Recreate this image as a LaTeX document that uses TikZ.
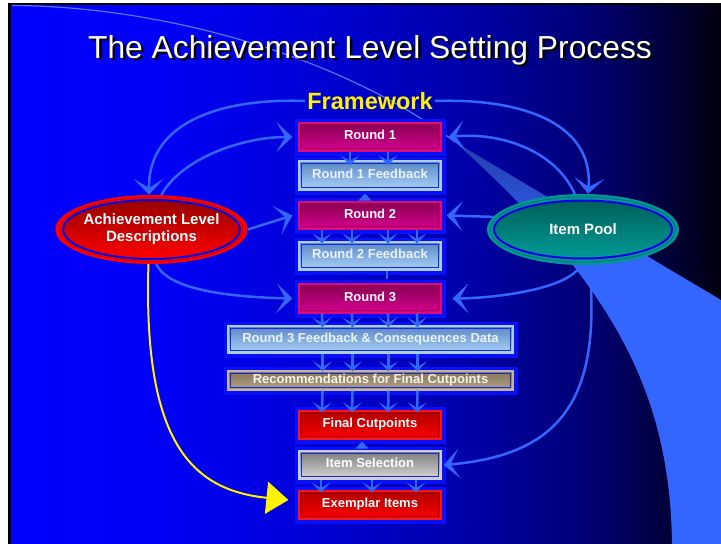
\documentclass[tikz,border=0pt]{standalone}
\usepackage{fontspec}
\setmainfont{Liberation Sans}
\usetikzlibrary{arrows.meta,shapes.geometric}
\definecolor{bgA}{RGB}{0,0,255}
\definecolor{bgB}{RGB}{0,0,248}
\definecolor{bgC}{RGB}{0,0,222}
\definecolor{bgD}{RGB}{0,0,172}
\definecolor{bgE}{RGB}{0,0,110}
\definecolor{bgF}{RGB}{0,0,32}
\definecolor{bgG}{RGB}{0,0,14}
\definecolor{wedgeA}{RGB}{35,60,170}
\definecolor{wedgeB}{RGB}{51,102,255}
\definecolor{wedgeline}{RGB}{80,120,255}
\definecolor{arrc}{RGB}{51,102,255}
\definecolor{backc}{RGB}{8,16,250}
\definecolor{rndT}{RGB}{135,0,80}
\definecolor{rndB}{RGB}{215,0,145}
\definecolor{rndF}{RGB}{225,10,120}
\definecolor{rndG}{RGB}{160,0,90}
\definecolor{fbT}{RGB}{90,135,195}
\definecolor{fbB}{RGB}{170,210,248}
\definecolor{fbF}{RGB}{175,205,240}
\definecolor{gapblue}{RGB}{20,40,230}
\definecolor{fbtext}{RGB}{235,242,255}
\definecolor{recT}{RGB}{132,117,92}
\definecolor{recB}{RGB}{178,163,133}
\definecolor{recF}{RGB}{195,180,155}
\definecolor{rectext}{RGB}{245,242,230}
\definecolor{redT}{RGB}{175,0,0}
\definecolor{redB}{RGB}{255,0,0}
\definecolor{redF}{RGB}{255,20,20}
\definecolor{redG}{RGB}{150,0,0}
\definecolor{grT}{RGB}{125,125,125}
\definecolor{grB}{RGB}{215,215,215}
\definecolor{grF}{RGB}{205,205,205}
\definecolor{tealO}{RGB}{0,150,150}
\definecolor{tealT}{RGB}{0,95,90}
\definecolor{tealB}{RGB}{0,155,150}
\definecolor{tealL}{RGB}{0,110,110}
\definecolor{aldT}{RGB}{150,0,0}
\definecolor{aldL}{RGB}{200,0,0}
\definecolor{ringblue}{RGB}{0,0,235}
\pgfdeclarehorizontalshading{bgshade}{100bp}{color(0bp)=(bgA); color(25bp)=(bgA); color(34.8bp)=(bgB); color(43.9bp)=(bgC); color(56.6bp)=(bgD); color(66.5bp)=(bgE); color(73.5bp)=(bgF); color(75bp)=(bgG); color(100bp)=(bgG)}
\pgfdeclareverticalshading{wedgeshade}{100bp}{color(0bp)=(wedgeB); color(61bp)=(wedgeB); color(75bp)=(wedgeA); color(100bp)=(wedgeA)}
\newcommand\bxfont{\bfseries\fontsize{13}{15}\selectfont}
\newcommand\elfont{\bfseries\fontsize{15}{17}\selectfont}
\newcommand\shadowed[1]{\makebox[0pt][l]{\raisebox{-2.5pt}[0pt][0pt]{\kern2.5pt\textcolor{black}{#1}}}#1}
\begin{document}
\begin{tikzpicture}[x=1pt,y=-1pt,
  stepbox/.style n args={4}{rectangle, inner sep=0pt, minimum width=142pt, minimum height=28pt,
    text height=9.5pt, text depth=4pt,
    text=white, font=\bxfont, top color=#1, bottom color=#2, draw=#3, line width=1.2pt,
    preaction={draw=backc, line width=9pt},
    path picture={\draw[#4, line width=0.9pt] ([shift={(2.2,2.2)}]path picture bounding box.north west) rectangle ([shift={(-2.2,-2.2)}]path picture bounding box.south east);}},
  bigarr/.style={draw=arrc, line width=2.5pt, -{Stealth[length=16pt,width=30pt,inset=9pt]}},
  smallarr/.style={draw=arrc, line width=2.6pt, -{Stealth[length=10pt,width=19pt,inset=5.5pt]}},
  triarr/.style={draw=arrc, line width=2.5pt, -{Triangle[length=7pt,width=13pt]}},
  yarr/.style={draw=yellow, line width=2pt, -{Triangle[length=22pt,width=32pt]}},
  titlefont/.style={font=\fontsize{31.8}{36}\selectfont, inner sep=0pt}
]
\useasboundingbox (0,0) rectangle (721,544);
\fill[white] (0,0) rectangle (721,544);
\fill[black] (8,3) rectangle (721,544);
\shade[shading=bgshade] (11,5) rectangle (721,544);
% decorative sweep
\shade[shading=wedgeshade] (455,142) -- (721,300) -- (721,544) -- (672,544) .. controls (670,400) and (620,290) .. (455,142) -- cycle;
\draw[wedgeline, line width=1.2pt] (12,5.5) .. controls (160,6) and (340,55) .. (455,142);
% title
\node[titlefont, text=white] (title) at (370,50) {\shadowed{The Achievement Level Setting Process}};
\node[text=yellow, font=\bfseries\fontsize{23.5}{26}\selectfont, inner sep=2pt] (fw) at (370,101) {Framework};
% ellipses
\node[ellipse, minimum width=189pt, minimum height=69pt, inner sep=0pt, fill=red, text=white, font=\elfont, align=center,
  path picture={\draw[aldL, line width=0.8pt] (path picture bounding box.center) ellipse [x radius=91.5, y radius=32];
    \draw[ringblue, line width=2pt, top color=aldT, bottom color=red] (path picture bounding box.center) ellipse [x radius=88.5, y radius=29.5];}]
  (ald) at (151.5,229.5) {Achievement Level\\Descriptions};
\node[ellipse, minimum width=192pt, minimum height=71pt, inner sep=0pt, fill=tealO, text=white, font=\elfont,
  path picture={\draw[tealL, line width=0.8pt] (path picture bounding box.center) ellipse [x radius=92.5, y radius=32.5];
    \draw[ringblue, line width=2pt, top color=tealT, bottom color=tealB] (path picture bounding box.center) ellipse [x radius=89, y radius=29];}]
  (ip) at (583,229.5) {Item Pool};
% steps
\node[stepbox={rndT}{rndB}{rndF}{rndG}] (r1) at (370,137) {Round 1};
\node[stepbox={fbT}{fbB}{fbF}{gapblue}, minimum height=29pt, text=fbtext] (f1) at (370,175.5) {Round 1 Feedback};
\node[stepbox={rndT}{rndB}{rndF}{rndG}, minimum height=27pt] (r2) at (370,215.5) {Round 2};
\node[stepbox={fbT}{fbB}{fbF}{gapblue}, text=fbtext] (f2) at (370,256) {Round 2 Feedback};
\node[stepbox={rndT}{rndB}{rndF}{rndG}, minimum height=29pt] (r3) at (370,298.5) {Round 3};
\node[stepbox={fbT}{fbB}{fbF}{gapblue}, minimum width=285pt, minimum height=27pt, text=fbtext] (f3) at (370.5,339.5) {Round 3 Feedback \& Consequences Data};
\node[stepbox={recT}{recB}{recF}{gapblue}, minimum width=285pt, minimum height=19pt, text=rectext] (rec) at (370.5,380.5) {Recommendations for Final Cutpoints};
\node[stepbox={redT}{redB}{redF}{redG}] (fc) at (370,425) {Final Cutpoints};
\node[stepbox={grT}{grB}{grF}{gapblue}] (is) at (370,465) {Item Selection};
\node[stepbox={redT}{redB}{redF}{redG}] (ex) at (370,505) {Exemplar Items};
% big curved arrows
\draw[bigarr] (fw.west) .. controls (225,98) and (148,120) .. (ald.94);
\draw[bigarr] (fw.east) .. controls (515,98) and (594,120) .. (ip.82);
\draw[bigarr] (ald.74) .. controls (180,160) and (240,137) .. ([xshift=-6pt]r1.west);
\draw[bigarr] (ip.103) .. controls (555,150) and (500,132) .. ([xshift=7pt]r1.east);
\draw[bigarr] (ald.east) -- ([xshift=-6pt]r2.west);
\draw[bigarr] (ip.172) -- ([xshift=5pt]r2.east);
\draw[bigarr] (ald.-82) .. controls (168,290) and (230,297) .. ([xshift=-6pt]r3.west);
\draw[bigarr] (ip.-94) .. controls (570,288) and (500,298) .. ([xshift=11pt]r3.east);
\draw[bigarr] (ip.-80) .. controls (602,400) and (560,455) .. ([xshift=2pt]is.east);
\draw[yarr] (ald.-95) .. controls (143,440) and (190,490) .. ([shift={(-10,-5)}]ex.west);
% small arrows between steps
\foreach \dx in {-20,18} \draw[smallarr] ([xshift=\dx pt]r1.south) -- ([shift={(\dx,5)}]f1.north);
\foreach \dx in {-48,-18,18,47} {
  \draw[smallarr] ([xshift=\dx pt]r2.south) -- ([shift={(\dx,2)}]f2.north);
  \draw[smallarr] ([xshift=\dx pt]r3.south) -- ([shift={(\dx,2)}]f3.north);
  \draw[smallarr] ([xshift=\dx pt]f3.south) -- ([shift={(\dx,1)}]rec.north);
  \draw[smallarr] ([xshift=\dx pt]rec.south) -- ([shift={(\dx,2)}]fc.north);
}
\foreach \dx in {-49,2,46} \draw[smallarr] ([xshift=\dx pt]is.south) -- ([shift={(\dx,2)}]ex.north);
\draw[triarr] ([shift={(-5,-4)}]r2.north) -- ([shift={(-5,3)}]f1.south);
\draw[triarr] ([shift={(-8,-1)}]is.north) -- ([shift={(-8,2)}]fc.south);
\draw[arrc, line width=2.5pt] ([xshift=17pt]f2.south) -- ([shift={(17,-4)}]r3.north);
\end{tikzpicture}
\end{document}
